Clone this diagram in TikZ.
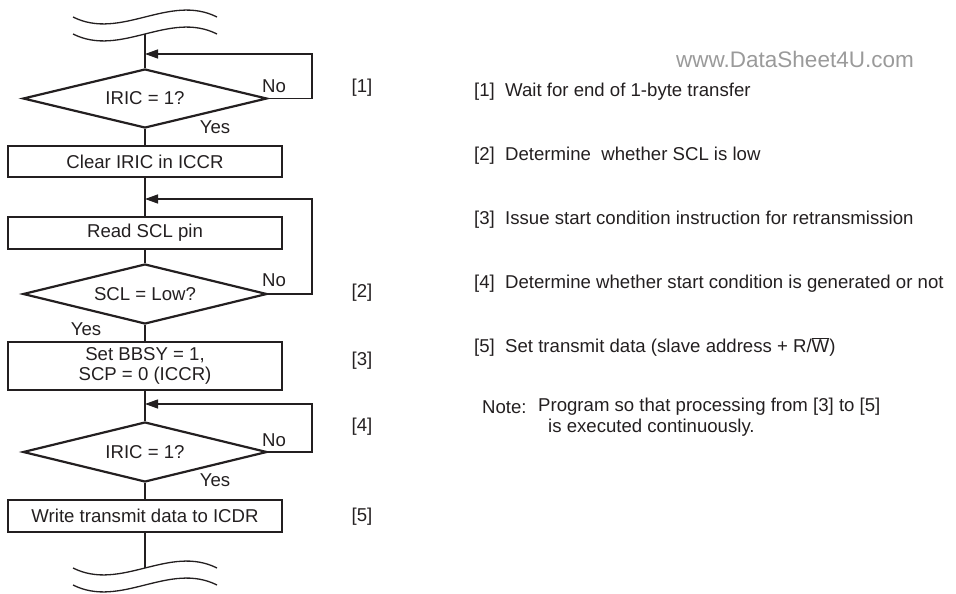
\documentclass[tikz,border=0pt]{standalone}
\usepackage{fontspec}
\setmainfont{Liberation Sans}
\usetikzlibrary{shapes.geometric,arrows.meta}
\definecolor{ink}{HTML}{231F20}
\definecolor{wm}{HTML}{9A9A9A}
\tikzset{
  fbox/.style={draw=ink, line width=2.4pt, minimum width=274pt, inner sep=0pt, text=ink, align=center},
  fdia/.style={draw=ink, line width=2.2pt, diamond, aspect=5, minimum width=244pt, minimum height=59pt, inner sep=0pt, text=ink},
  conn/.style={draw=ink, line width=1.3pt},
  arr/.style={conn, -{Triangle[length=13pt,width=9pt]}},
  lbl/.style={text=ink, inner sep=0pt},
  rtxt/.style={text=ink, inner sep=0pt, anchor=west},
}
\begin{document}
\begin{tikzpicture}[x=1pt,y=-1pt, font=\fontsize{18.6}{19.5}\selectfont]
\useasboundingbox (0,0) rectangle (956,594);
% top waves
\draw[conn] (73,17) .. controls (121,41) and (169,-7) .. (217,17);
\draw[conn] (73,34) .. controls (121,58) and (169,10) .. (217,34);
\coordinate (top) at (145,34);
% nodes
\node[fdia] (d1) at (145,98.5) {IRIC = 1?};
\node[fbox, minimum height=31pt] (b1) at (145,161.5) {Clear IRIC in ICCR};
\node[fbox, minimum height=32pt] (b2) at (145,233) {Read SCL pin};
\node[fdia, minimum height=60pt] (d2) at (145,294) {SCL = Low?};
\node[fbox, minimum height=48pt] (b3) at (145,366) {Set BBSY = 1,\\SCP = 0 (ICCR)};
\node[fdia, minimum height=60pt] (d3) at (145,452) {IRIC = 1?};
\node[fbox, minimum height=32pt] (b4) at (145,516) {Write transmit data to ICDR};
% bottom waves
\coordinate (bot) at (145,568);
\draw[conn] (73,568) .. controls (121,592) and (169,544) .. (217,568);
\draw[conn] (73,585) .. controls (121,609) and (169,561) .. (217,585);
% loop coordinates
\coordinate (a1) at (145,54);
\coordinate (r1) at (312,54);
\coordinate (a2) at (145,199);
\coordinate (r2) at (312,199);
\coordinate (a3) at (145,404);
\coordinate (r3) at (312,404);
% main flow
\draw[conn] (top) -- (d1.north);
\draw[conn] (d1.south) -- (b1.north);
\draw[conn] (b1.south) -- (b2.north);
\draw[conn] (b2.south) -- (d2.north);
\draw[conn] (d2.south) -- (b3.north);
\draw[conn] (b3.south) -- (d3.north);
\draw[conn] (d3.south) -- (b4.north);
\draw[conn] (b4.south) -- (bot);
% loops
\draw[arr] (d1.east) -| (r1) -- (a1);
\draw[arr] (d2.east) -| (r2) -- (a2);
\draw[arr] (d3.east) -| (r3) -- (a3);
% branch labels
\node[lbl] (n1) at (274,86) {No};
\node[lbl] (y1) at (215,127) {Yes};
\node[lbl] (n2) at (274,280) {No};
\node[lbl] (y2) at (86,329) {Yes};
\node[lbl] (n3) at (274,440) {No};
\node[lbl] (y3) at (215,480) {Yes};
% step markers
\node[lbl] (m1) at (362,88) {[1]};
\node[lbl] (m2) at (362,293) {[2]};
\node[lbl] (m3) at (362,361) {[3]};
\node[lbl] (m4) at (362,427) {[4]};
\node[lbl] (m5) at (362,517) {[5]};
% watermark
\node[text=wm, inner sep=0pt, font=\fontsize{22.5}{24}\selectfont] (wmk) at (795,59) {www.DataSheet4U.com};
% right-hand descriptions
\node[rtxt] (t1) at (474,92) {[1]~ Wait for end of 1-byte transfer};
\node[rtxt] (t2) at (474,156) {[2]~ Determine~ whether SCL is low};
\node[rtxt] (t3) at (474,220) {[3]~ Issue start condition instruction for retransmission};
\node[rtxt] (t4) at (474,284) {[4]~ Determine whether start condition is generated or not};
\node[rtxt] (t5) at (474,347) {[5]~ Set transmit data (slave address + R/$\overline{\hbox{W}}$)};
\node[rtxt] (nt) at (482,407) {Note:};
\node[rtxt] (nt1) at (538,407) {Program so that processing from [3] to [5]};
\node[rtxt] (nt2) at (548,428) {is executed continuously.};
\end{tikzpicture}
\end{document}
